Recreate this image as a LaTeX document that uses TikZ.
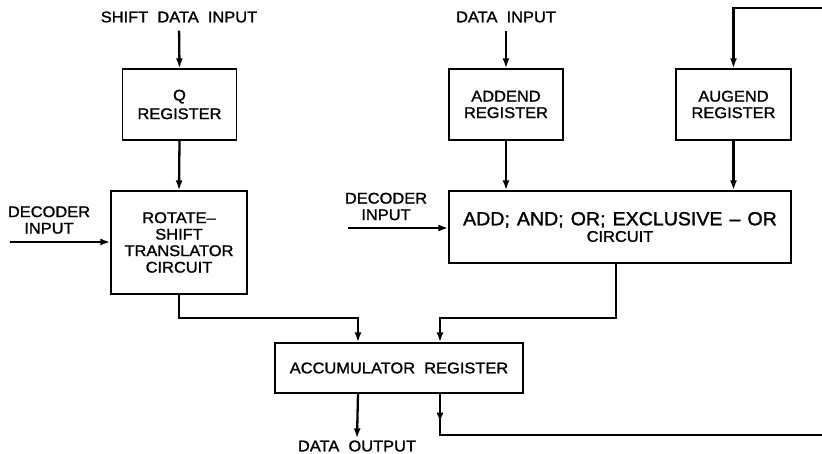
\documentclass[tikz,border=0pt]{standalone}
\usepackage{fontspec}
\setmainfont{Liberation Sans}[FakeStretch=1.06,WordSpace=2.0,FakeBold=1.4]
\newfontfamily\widefont{Liberation Sans}[Ligatures=TeX,FakeStretch=1.03,WordSpace=1.3,FakeBold=1.4]
\usetikzlibrary{arrows.meta,positioning,calc}

\newcommand{\lblsize}{\fontsize{15.5}{16.5}\selectfont}
\newcommand{\bigsize}{\widefont\fontsize{19}{20}\selectfont}

\tikzset{
  block/.style={draw, line width=1.2pt, align=center, inner sep=2pt, font=\lblsize},
  lbl/.style={align=center, inner sep=2pt, font=\lblsize},
  wire/.style={line width=2.3pt},
  feed/.style={wire, -{Latex[length=10pt,width=7pt]}}
}

\begin{document}
\begin{tikzpicture}[x=1pt, y=-1pt, line join=miter]

% ---------------------------------------------------------
% Frame
% ---------------------------------------------------------
\useasboundingbox (0,0) rectangle (822,453);

% ---------------------------------------------------------
% Registers and circuits
% ---------------------------------------------------------
\node[block, minimum width=114pt, minimum height=71pt] (qreg) at (179.5,104.5) {Q\\[2pt]REGISTER};
\node[block, minimum width=114pt, minimum height=71pt] (addend) at (506,104.5) {ADDEND\\REGISTER};
\node[block, minimum width=115pt, minimum height=71pt] (augend) at (733.5,104.5) {AUGEND\\REGISTER};
\node[block, minimum width=136pt, minimum height=103pt] (rot) at (179,242.5)
  {ROTATE--\\SHIFT\\TRANSLATOR\\CIRCUIT};
\node[block, minimum width=342pt, minimum height=72pt] (alu) at (620,227)
  {{\bigsize ADD; AND; OR; EXCLUSIVE -- OR}\\[0pt]CIRCUIT};
\node[block, minimum width=248pt, minimum height=50pt] (acc) at (399,368) {ACCUMULATOR REGISTER};

% ---------------------------------------------------------
% Labels
% ---------------------------------------------------------
\node[lbl] (shiftin) at (179,17) {SHIFT DATA INPUT};
\node[lbl] (datain) at (506,17) {DATA INPUT};
\node[lbl] (decA) at (49,220) {DECODER\\INPUT};
\node[lbl] (decB) at (386,206.5) {DECODER\\INPUT};
\node[lbl] (dataout) at (357,446) {DATA OUTPUT};

% ---------------------------------------------------------
% Free ends and bends
% ---------------------------------------------------------
\coordinate (decAin) at (10,242);       % left decoder feed
\coordinate (decBin) at (348,228);      % middle decoder feed
\coordinate (fbtop) at (822,8);         % return line, top
\coordinate (fbbot) at (822,435);       % return line, bottom
\coordinate (joinA) at (358,318);       % rotate output bend
\coordinate (joinB) at (440,318);       % circuit output bend
\coordinate (aluout) at ($(alu.south)+(-4,0)$);

% ---------------------------------------------------------
% Inputs
% ---------------------------------------------------------
\draw[feed, shorten <=6pt] (shiftin.south) -- (qreg.north);
\draw[feed, shorten <=6pt] (datain.south) -- (addend.north);
\draw[feed] (decAin) -- (rot.west |- decAin);
\draw[feed] (decBin) -- (alu.west |- decBin);

% ---------------------------------------------------------
% Register to circuit
% ---------------------------------------------------------
\draw[feed] (qreg.south) -- (rot.north);
\draw[feed] (addend.south) -- (addend.south |- alu.north);
\draw[feed] (augend.south) -- (augend.south |- alu.north);

% ---------------------------------------------------------
% Circuit to accumulator
% ---------------------------------------------------------
\draw[feed] (rot.south) |- (joinA) -- (joinA |- acc.north);
\draw[feed] (aluout) |- (joinB) -- (joinB |- acc.north);

% ---------------------------------------------------------
% Output and return path
% ---------------------------------------------------------
\draw[feed] (joinA |- acc.south) -- (dataout.north);
\draw[wire] (joinB |- acc.south) |- (fbbot);
\draw[feed] (joinB |- acc.south) -- ++(0,29);
\draw[feed] (fbtop) -| (augend.north);

\end{tikzpicture}
\end{document}
